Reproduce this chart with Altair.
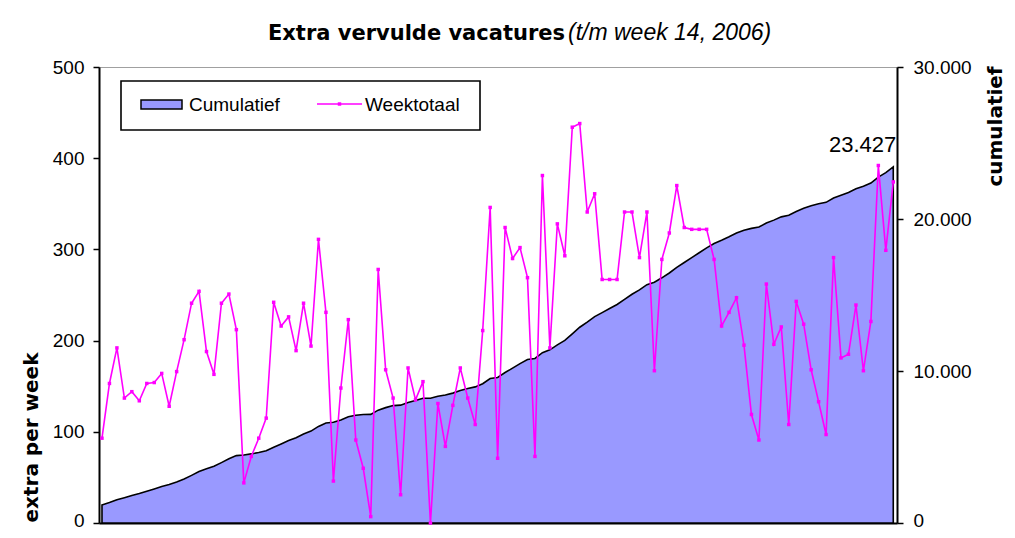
import altair as alt
import pandas as pd

# ---------------- data ----------------
weeks = list(range(1, 108))

weektotaal = [
    93, 153, 192, 137, 144, 134, 153, 154, 164, 128,
    166, 201, 241, 254, 188, 163, 241, 251, 212, 44,
    73, 93, 115, 242, 216, 226, 189, 241, 194, 311,
    231, 46, 148, 223, 91, 60, 7, 278, 168, 137,
    31, 170, 135, 155, 0, 131, 84, 129, 170, 137,
    108, 211, 346, 71, 324, 290, 302, 269, 73, 381,
    192, 328, 293, 434, 438, 341, 361, 267, 267, 267,
    341, 341, 291, 341, 167, 289, 318, 370, 324, 322,
    322, 322, 289, 216, 231, 247, 195, 119, 91, 262,
    196, 215, 108, 243, 218, 168, 133, 97, 291, 181,
    185, 239, 167, 221, 392, 299, 374,
]

cumulatief = [
    1190, 1341, 1531, 1666, 1808, 1940, 2092, 2244, 2406, 2532,
    2696, 2895, 3134, 3386, 3572, 3733, 3973, 4222, 4432, 4474,
    4545, 4636, 4749, 4989, 5203, 5427, 5614, 5854, 6046, 6355,
    6584, 6628, 6774, 6995, 7084, 7142, 7147, 7423, 7590, 7725,
    7754, 7922, 8055, 8208, 8208, 8335, 8417, 8544, 8713, 8848,
    8954, 9163, 9507, 9576, 9898, 10186, 10486, 10753, 10824, 11204,
    11394, 11720, 12011, 12443, 12879, 13218, 13577, 13842, 14107, 14373,
    14712, 15051, 15340, 15679, 15844, 16131, 16447, 16815, 17137, 17457,
    17778, 18098, 18385, 18599, 18828, 19073, 19266, 19383, 19472, 19732,
    19926, 20140, 20246, 20487, 20703, 20869, 21000, 21095, 21384, 21563,
    21746, 21984, 22149, 22368, 22758, 23055, 23427,
]

series_names = ["Cumulatief", "Weektotaal"]
title_main = "Extra vervulde vacatures"
title_sub = "(t/m week 14, 2006)"
left_title = "extra per week"
right_title = "cumulatief"
left_ticks = [0, 100, 200, 300, 400, 500]
right_ticks = [0, 10000, 20000, 30000]

df = pd.DataFrame({"week": weeks, "weektotaal": weektotaal, "cumulatief": cumulatief})
last_df = pd.DataFrame({"week": [weeks[-1]], "cumulatief": [cumulatief[-1]]})

FONT = "Liberation Sans"
BOLD_FONT = "DejaVu Sans"
AREA_FILL = "#9999ff"
MAGENTA = "#ff00ff"
DOT_FMT = "replace(format(datum.value, ',d'), ',', '.')"
# lift only the bottom "0" label a little so it stays inside the page
ZERO_LIFT = {"condition": {"test": "datum.value === 0", "value": -3}, "value": 0}

x_enc = alt.X(
    "week:Q",
    scale=alt.Scale(domain=[0.6, 107.5], nice=False, zero=False),
    axis=alt.Axis(labels=False, ticks=False, title=None, grid=False,
                  domainColor="black", domainWidth=2),
)

cum_scale = alt.Scale(domain=[0, 30000], nice=False)
week_scale = alt.Scale(domain=[0, 500], nice=False)

area = alt.Chart(df).mark_area(
    fill=AREA_FILL, stroke="black", strokeWidth=1.6, interpolate="linear"
).encode(
    x=x_enc,
    y=alt.Y(
        "cumulatief:Q",
        scale=cum_scale,
        axis=alt.Axis(
            orient="right", values=right_ticks, labelExpr=DOT_FMT, grid=False,
            labelFont=FONT, labelFontSize=19, labelColor="black", labelPadding=10,
            labelOffset=ZERO_LIFT,
            tickColor="black", tickWidth=1.5, tickSize=6,
            domainColor="black", domainWidth=2,
            title=right_title, titleFont=BOLD_FONT, titleFontSize=20, titleFontWeight="bold",
            titleColor="black", titleAngle=270, titleAlign="center",
            titleBaseline="middle", titleX=98, titleY=59,
        ),
    ),
)

label = alt.Chart(last_df).transform_calculate(
    lbl="replace(format(datum.cumulatief, ',d'), ',', '.')"
).mark_text(
    align="right", baseline="alphabetic", dx=3, dy=-15,
    font=FONT, fontSize=22, color="black",
).encode(
    x=x_enc,
    y=alt.Y("cumulatief:Q", scale=cum_scale, axis=None),
    text="lbl:N",
)

line = alt.Chart(df).mark_line(
    color=MAGENTA, strokeWidth=1.6,
    point=alt.OverlayMarkDef(shape="square", size=12, filled=True, color=MAGENTA),
).encode(
    x=x_enc,
    y=alt.Y(
        "weektotaal:Q",
        scale=week_scale,
        axis=alt.Axis(
            orient="left", values=left_ticks, grid=False,
            labelFont=FONT, labelFontSize=19, labelColor="black", labelPadding=9,
            labelOffset=ZERO_LIFT,
            tickColor="black", tickWidth=1.5, tickSize=6,
            domainColor="black", domainWidth=2,
            title=left_title, titleFont=BOLD_FONT, titleFontSize=20, titleFontWeight="bold",
            titleColor="black", titleAngle=270, titleAlign="center",
            titleBaseline="middle", titleX=-68, titleY=370,
        ),
    ),
)

# ---------------- title (two styles on one line) ----------------
t_main = alt.Chart(pd.DataFrame({"t": [title_main]})).mark_text(
    align="right", baseline="alphabetic", font=BOLD_FONT, fontSize=21,
    fontWeight="bold", color="black",
).encode(x=alt.value(466), y=alt.value(-27), text="t:N")

t_sub = alt.Chart(pd.DataFrame({"t": [title_sub]})).mark_text(
    align="left", baseline="alphabetic", font=FONT, fontSize=23,
    fontStyle="italic", color="black",
).encode(x=alt.value(469), y=alt.value(-27), text="t:N")

# ---------------- legend box ----------------
one = pd.DataFrame({"k": [0]})
leg_box = alt.Chart(one).mark_rect(
    fill="white", stroke="black", strokeWidth=1.6
).encode(x=alt.value(22), x2=alt.value(381), y=alt.value(14), y2=alt.value(63))

leg_swatch = alt.Chart(one).mark_rect(
    fill=AREA_FILL, stroke="black", strokeWidth=1.5
).encode(x=alt.value(42), x2=alt.value(83), y=alt.value(33), y2=alt.value(42))

leg_text1 = alt.Chart(pd.DataFrame({"t": [series_names[0]]})).mark_text(
    align="left", baseline="middle", font=FONT, fontSize=19, color="black"
).encode(x=alt.value(90), y=alt.value(38), text="t:N")

leg_rule = alt.Chart(one).mark_rule(color=MAGENTA, strokeWidth=1.6).encode(
    x=alt.value(218), x2=alt.value(263), y=alt.value(37)
)
leg_dot = alt.Chart(one).mark_point(
    shape="square", size=12, filled=True, color=MAGENTA, opacity=1
).encode(x=alt.value(240.5), y=alt.value(37))

leg_text2 = alt.Chart(pd.DataFrame({"t": [series_names[1]]})).mark_text(
    align="left", baseline="middle", font=FONT, fontSize=19, color="black"
).encode(x=alt.value(266), y=alt.value(38), text="t:N")

chart = alt.layer(
    area, label, line,
    t_main, t_sub,
    leg_box, leg_swatch, leg_text1, leg_rule, leg_dot, leg_text2,
).resolve_scale(
    y="independent"
).properties(
    width=798, height=456,
    autosize=alt.AutoSizeParams(type="none"),
    padding={"left": 91, "top": 59, "right": 110, "bottom": 7},
    background="white",
).configure_view(
    stroke="#a0a0a0", strokeWidth=1
)

chart.save("out.html", embed_options={"renderer": "svg", "actions": False})
